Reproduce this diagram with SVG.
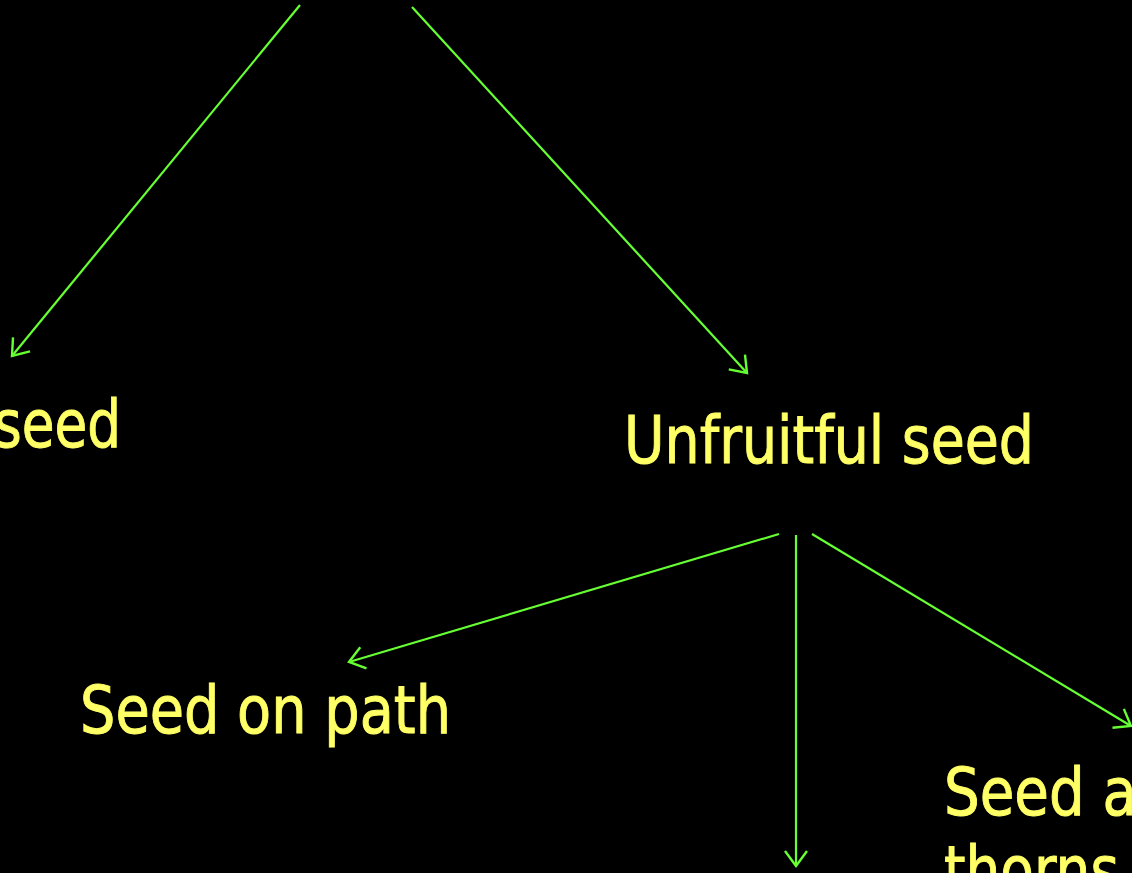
<svg xmlns="http://www.w3.org/2000/svg" width="1132" height="873" viewBox="0 0 1132 873">
<defs>
<style>
.lbl{font-family:"DejaVu Sans","Verdana",sans-serif;font-size:66px;fill:#FFFF66;stroke:#FFFF66;stroke-width:1;}
.edge{stroke:#66FF33;stroke-width:2.2;fill:none;}
</style>
<marker id="arr" markerUnits="userSpaceOnUse" viewBox="-17 -12 19 24" markerWidth="19" markerHeight="24" refX="0" refY="0" orient="auto" overflow="visible">
<path d="M-15,-11 L0,0 L-15,11" fill="none" stroke="#66FF33" stroke-width="2.4"/>
</marker>
</defs>
<rect width="1132" height="873" fill="#000000"/>
<g id="connectors">
<line class="edge" x1="300" y1="5" x2="12" y2="356" marker-end="url(#arr)"/>
<line class="edge" x1="412" y1="7" x2="747" y2="373" marker-end="url(#arr)"/>
<line class="edge" x1="779" y1="534" x2="349" y2="662" marker-end="url(#arr)"/>
<line class="edge" x1="796" y1="535" x2="796" y2="866" marker-end="url(#arr)"/>
<line class="edge" x1="812" y1="534" x2="1131" y2="726" marker-end="url(#arr)"/>
</g>
<g id="node-fruitful">
<text class="lbl" x="121" y="447" text-anchor="end" textLength="127" lengthAdjust="spacingAndGlyphs">seed</text>
</g>
<g id="node-unfruitful">
<text class="lbl" x="624" y="463" textLength="410" lengthAdjust="spacingAndGlyphs">Unfruitful seed</text>
</g>
<g id="node-path">
<text class="lbl" x="80" y="733" textLength="371" lengthAdjust="spacingAndGlyphs">Seed on path</text>
</g>
<g id="node-thorns">
<text class="lbl" x="944" y="815" textLength="193" lengthAdjust="spacingAndGlyphs">Seed a</text>
<text class="lbl" x="944" y="893" textLength="175" lengthAdjust="spacingAndGlyphs">thorns</text>
</g>
</svg>
